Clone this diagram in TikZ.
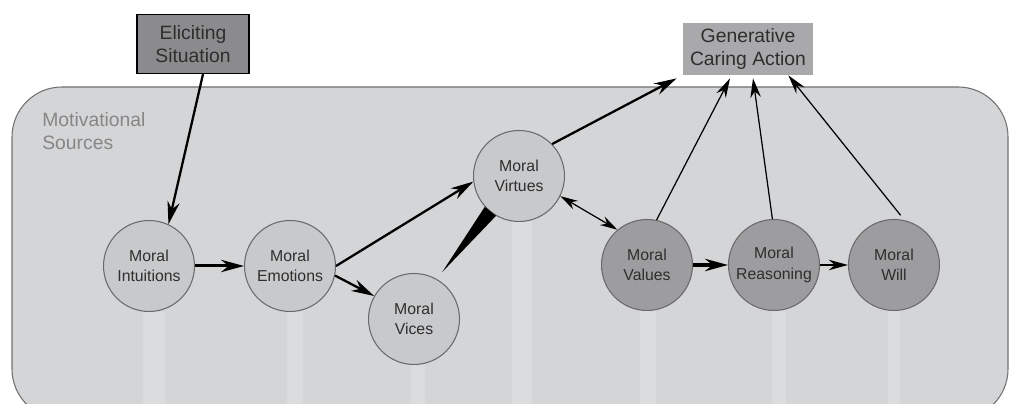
\documentclass[tikz,border=0pt]{standalone}
\usepackage{fontspec}
\setmainfont{Liberation Sans}
\usetikzlibrary{arrows.meta,calc}
\definecolor{framefill}{HTML}{D4D5D7}
\definecolor{framerim}{HTML}{707070}
\definecolor{streak}{HTML}{DADCDD}
\definecolor{paleball}{HTML}{C8C9CB}
\definecolor{darkball}{HTML}{9D9D9F}
\definecolor{ballrim}{HTML}{6A6A6A}
\definecolor{elicitfill}{HTML}{8B8B8D}
\definecolor{actionfill}{HTML}{A9A9AB}
\definecolor{ink}{HTML}{2E2E2E}
\definecolor{srcgray}{HTML}{868686}
\begin{document}
\begin{tikzpicture}[x=0.02cm, y=0.02cm,
  font=\fontsize{9}{11.5}\selectfont,
  every node/.style={text=ink, align=center},
  source/.style={circle, draw=ballrim, line width=0.6pt, fill=paleball, minimum size=1.82cm, inner sep=0pt},
  drive/.style={source, fill=darkball},
  outerbox/.style={font=\fontsize{11}{13}\selectfont, inner sep=0pt},
  boldarrow/.style={-{Stealth[length=13pt,width=7pt]}, line width=1.5pt},
  thinarrow/.style={-{Stealth[length=11pt,width=6pt]}, line width=0.7pt}]
\useasboundingbox (0,0) rectangle (1010,404);
\clip (0,0) rectangle (1010,404);
\filldraw[fill=framefill, draw=framerim, line width=0.6pt, rounded corners=1cm] (12,-15) rectangle (1008,317);
% pale strips under the circles
\foreach \sx/\sw/\st in {154/22/92, 295/16/92, 418/14/39, 522/20/182, 648/16/93, 779/14/93, 894/12/93}
  \fill[streak] (\sx-\sw/2,0) rectangle (\sx+\sw/2,\st);
\node[anchor=north west, inner sep=0pt, align=left, text=srcgray, font=\fontsize{11}{13}\selectfont] (sources) at (42,292) {Motivational\\Sources};
\node[outerbox, draw=black, line width=0.8pt, fill=elicitfill, minimum width=2.24cm, minimum height=1.18cm] (eliciting) at (193,360) {Eliciting\\Situation};
\node[outerbox, fill=actionfill, minimum width=2.6cm, minimum height=1.04cm] (action) at (748,355) {Generative\\Caring Action};
\node[source] (intuitions) at (149,138) {Moral\\Intuitions};
\node[source] (emotions) at (290,138) {Moral\\Emotions};
\node[source] (vices) at (414,85) {Moral\\Vices};
\node[source] (virtues) at (519,228) {Moral\\Virtues};
\node[drive] (values) at (647,139) {Moral\\Values};
\node[drive] (reasoning) at (774,139) {Moral\\Reasoning};
\node[drive] (will) at (894,139) {Moral\\Will};
\coordinate (vicetip) at ($(vices.center)!1.19!(vices.59)$);
\draw[boldarrow, line width=1.3pt] ([xshift=0.2cm]eliciting.south) -- (intuitions.65);
\draw[boldarrow, line width=1.7pt] (intuitions) -- (emotions);
\draw[boldarrow, line width=1.3pt] (emotions.east) -- (virtues.187);
\draw[boldarrow, line width=1.3pt] (emotions.-12) -- (vices.150);
\fill[black] (vicetip) -- (virtues.222) -- (virtues.240) -- cycle;
\draw[{Stealth[length=10pt,width=5.5pt]}-{Stealth[length=10pt,width=5.5pt]}, line width=0.7pt] (virtues.-26) -- (values.130);
\draw[boldarrow, line width=1.3pt] (virtues.44) -- ([shift={(-6,-3)}]action.south west);
\draw[thinarrow] (values.78) -- ([shift={(-18,-3)}]action.south);
\draw[thinarrow] (reasoning.92) -- ([shift={(5,-3)}]action.south);
\draw[thinarrow] ([shift={(1,4)}]will.83) -- ([shift={(-25,0)}]action.south east);
\draw[boldarrow, line width=2pt] (values) -- (reasoning);
\draw[thinarrow, line width=0.9pt] (reasoning) -- (will);
\end{tikzpicture}
\end{document}
